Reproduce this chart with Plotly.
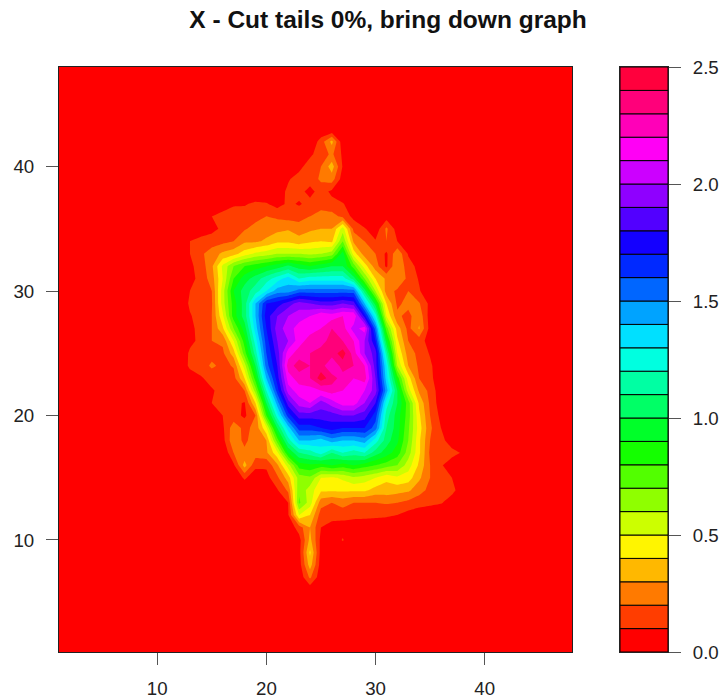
import plotly.graph_objects as go

title = "X - Cut tails 0%, bring down graph"
grid_x = list(range(1, 49))
grid_y = list(range(1, 49))
first_col = 12  # the first value in each row below sits at x = 12

# rows: y -> values for x = 12 .. 38; everything else in the grid reads as 0
row_43 = [0]*27
row_42 = [0,0,0,0,0,0,0,0,0,0,0,0,0,.15,.33,.03,0,0,0,0,0,0,0,0,0,0,0]
row_41 = [0,0,0,0,0,0,0,0,0,0,0,0,.08,.15,.22,.08,0,0,0,0,0,0,0,0,0,0,0]
row_40 = [0,0,0,0,0,0,0,0,0,0,0,.07,.15,.2,.35,.09,0,0,0,0,0,0,0,0,0,0,0]
row_39 = [0,0,0,0,0,0,0,0,0,.09,.09,.14,.14,.22,.25,.05,0,0,0,0,0,0,0,0,0,0,0]
row_38 = [0,0,0,0,0,0,0,0,0,.05,.12,.13,.07,.14,.08,0,0,0,0,0,0,0,0,0,0,0,0]
row_37 = [0,0,0,0,.07,.09,.09,.12,.11,.06,.12,.09,.13,.15,.13,.11,.03,0,0,0,0,0,0,0,0,0,0]
row_36 = [0,0,0,.1,.12,.14,.15,.17,.2,.18,.16,.16,.2,.25,.24,.17,.07,0,0,.05,0,0,0,0,0,0,0]
row_35 = [0,.02,.03,.07,.12,.15,.19,.23,.25,.27,.29,.25,.28,.3,.3,.55,.17,.11,.03,.22,.05,0,0,0,0,0,0]
row_34 = [0,.1,.14,.15,.17,.2,.28,.28,.32,.38,.38,.34,.38,.4,.38,.7,.28,.2,.11,.2,.1,0,0,0,0,0,0]
row_33 = [0,.1,.18,.25,.32,.36,.45,.52,.55,.6,.6,.6,.58,.6,.65,.95,.45,.25,.2,.08,.28,.09,0,0,0,0,0]
row_32 = [0,.08,.14,.28,.52,.7,.8,.85,.9,.95,1.02,.95,.9,.95,1.0,1.0,.75,.45,.25,.08,.3,.14,.07,0,0,0,0]
row_31 = [0,.07,.13,.25,.5,.8,.95,1.05,1.15,1.25,1.35,1.2,1.25,1.25,1.25,1.25,1.05,.7,.4,.28,.3,.17,.09,0,0,0,0]
row_30 = [0,.1,.15,.2,.55,.9,1.05,1.15,1.3,1.45,1.45,1.55,1.55,1.55,1.55,1.55,1.55,1.05,.6,.25,.18,.2,.11,.02,0,0,0]
row_29 = [0,.12,.16,.19,.55,.85,1.05,1.4,1.7,1.75,1.85,1.95,1.9,1.85,1.85,1.9,1.85,1.4,.95,.4,.18,.23,.21,.07,0,0,0]
row_28 = [0,.09,.15,.2,.48,.85,1.05,1.4,1.75,1.9,2.0,2.05,2.1,2.2,2.15,2.2,2.2,1.75,1.25,.5,.22,.17,.27,.05,0,0,0]
row_27 = [0,.07,.14,.2,.38,.7,.95,1.35,1.7,1.95,2.05,2.15,2.15,2.2,2.3,2.25,2.05,2.15,1.55,.75,.35,.17,.31,.06,0,0,0]
row_26 = [0,.07,.13,.2,.22,.5,.85,1.25,1.65,1.9,2.0,2.15,2.25,2.25,2.35,2.3,2.2,2.0,1.7,.95,.42,.2,.15,.05,0,0,0]
row_25 = [0,.12,.15,.16,.18,.35,.75,1.15,1.6,1.85,2.15,2.25,2.3,2.35,2.35,2.45,2.25,2.0,1.85,1.15,.5,.25,.17,.09,0,0,0]
row_24 = [.02,.12,.14,.22,.17,.21,.55,1.0,1.55,1.8,2.25,2.35,2.3,2.35,2.2,2.35,2.3,2.2,1.85,1.3,.6,.3,.18,.12,.02,0,0]
row_23 = [0,.05,.09,.13,.14,.16,.4,.85,1.4,1.75,2.15,2.25,2.3,2.45,2.35,2.25,2.2,2.25,1.9,1.35,.85,.45,.2,.13,.02,0,0]
row_22 = [0,0,.02,.09,.13,.15,.2,.65,1.2,1.65,2.05,2.15,2.15,2.2,2.25,2.2,2.2,2.1,1.95,1.45,1.0,.55,.28,.17,.03,0,0]
row_21 = [0,0,.02,.1,.12,.13,.09,.4,1.0,1.45,1.85,2.05,2.1,1.95,2.05,2.15,2.15,2.0,1.8,1.25,1.0,.75,.38,.18,.04,0,0]
row_20 = [0,0,0,.02,.1,.14,.08,.2,.8,1.25,1.65,1.85,1.85,1.85,1.85,1.9,1.9,1.85,1.65,1.15,.95,.75,.42,.2,.07,0,0]
row_19 = [0,0,0,0,.08,.26,.17,.23,.48,1.0,1.35,1.65,1.65,1.7,1.75,1.7,1.7,1.7,1.55,1.1,.95,.72,.45,.22,.1,.02,0]
row_18 = [0,0,0,0,.06,.28,.17,.27,.3,.75,1.15,1.4,1.4,1.35,1.45,1.4,1.4,1.45,1.25,1.05,.92,.7,.42,.2,.13,.05,0]
row_17 = [0,0,0,0,0,.2,.23,.25,.28,.47,.9,1.1,1.15,1.25,1.1,1.2,1.15,1.2,1.05,.95,.85,.65,.42,.18,.14,.13,.09]
row_16 = [0,0,0,0,0,.08,.34,.13,.12,.28,.55,.85,.88,.85,.9,.85,.9,.85,.8,.75,.7,.55,.38,.2,.11,.05,0]
row_15 = [0,0,0,0,0,0,.12,.03,.06,.18,.35,.65,.68,.5,.48,.52,.58,.55,.5,.42,.48,.45,.32,.2,.17,.1,.02]
row_14 = [0,0,0,0,0,0,0,0,0,.09,.22,.68,.55,.42,.42,.42,.42,.42,.36,.36,.34,.32,.24,.17,.16,.13,.04]
row_13 = [0,0,0,0,0,0,0,0,0,.02,.1,.72,.55,.24,.2,.24,.2,.2,.2,.21,.2,.17,.14,.13,.11,.05,0]
row_12 = [0,0,0,0,0,0,0,0,0,0,.09,.5,.4,.15,.13,.14,.13,.13,.13,.12,.1,.06,.04,.01,0,0,0]
row_11 = [0,0,0,0,0,0,0,0,0,0,.02,.15,.3,.1,.07,.05,.04,.03,0,0,0,0,0,0,0,0,0]
row_10 = [0,0,0,0,0,0,0,0,0,0,0,.06,.33,.07,.02,.11,0,0,0,0,0,0,0,0,0,0,0]
row_9 = [0,0,0,0,0,0,0,0,0,0,0,.06,.42,.06,0,0,0,0,0,0,0,0,0,0,0,0,0]
row_8 = [0,0,0,0,0,0,0,0,0,0,0,.05,.35,.05,0,0,0,0,0,0,0,0,0,0,0,0,0]
row_7 = [0,0,0,0,0,0,0,0,0,0,0,.02,.22,.03,0,0,0,0,0,0,0,0,0,0,0,0,0]
row_6 = [0,0,0,0,0,0,0,0,0,0,0,0,.03,0,0,0,0,0,0,0,0,0,0,0,0,0,0]

rows = {6: row_6, 7: row_7, 8: row_8, 9: row_9, 10: row_10, 11: row_11, 12: row_12,
        13: row_13, 14: row_14, 15: row_15, 16: row_16, 17: row_17, 18: row_18,
        19: row_19, 20: row_20, 21: row_21, 22: row_22, 23: row_23, 24: row_24,
        25: row_25, 26: row_26, 27: row_27, 28: row_28, 29: row_29, 30: row_30,
        31: row_31, 32: row_32, 33: row_33, 34: row_34, 35: row_35, 36: row_36,
        37: row_37, 38: row_38, 39: row_39, 40: row_40, 41: row_41, 42: row_42,
        43: row_43}

key_levels = [round(i * 0.1, 1) for i in range(25)]
key_colors = ["#FF0000", "#FF3D00", "#FF7A00", "#FFB800", "#FFF500", "#CCFF00", "#8FFF00",
              "#52FF00", "#14FF00", "#00FF29", "#00FF66", "#00FFA3", "#00FFE0", "#00E0FF",
              "#00A3FF", "#0066FF", "#0029FF", "#1400FF", "#5200FF", "#8F00FF", "#CC00FF",
              "#FF00F5", "#FF00B8", "#FF007A", "#FF003D"]
key_ticks = [0.0, 0.5, 1.0, 1.5, 2.0, 2.5]
x_ticks = [10, 20, 30, 40]
y_ticks = [10, 20, 30, 40]

z = []
for y in grid_y:
    line = [0.0] * len(grid_x)
    if y in rows:
        for i, v in enumerate(rows[y]):
            line[first_col - 1 + i] = v
    z.append(line)

n = len(key_colors)
scale = []
for i, c in enumerate(key_colors):
    scale.append([i / n, c])
    scale.append([(i + 1) / n, c])

W, H = 725, 698
FONT = "Liberation Sans, Arimo, Helvetica, Arial, sans-serif"
INK = "#222222"

fig = go.Figure()
fig.add_trace(go.Contour(
    x=grid_x, y=grid_y, z=z, colorscale=scale, showscale=False,
    autocontour=False,
    contours=dict(start=0.1, end=2.4, size=0.1, coloring="fill", showlines=False),
    line=dict(width=0, smoothing=0), hoverinfo="skip", xaxis="x", yaxis="y",
))
fig.add_trace(go.Bar(
    x=[0.5] * len(key_levels), y=[0.1] * len(key_levels), base=key_levels, width=1,
    marker=dict(color=key_colors, line=dict(color="#000000", width=1)),
    hoverinfo="skip", xaxis="x2", yaxis="y2",
))

axis_common = dict(
    showgrid=False, zeroline=False, showline=True, linecolor=INK, linewidth=1,
    mirror=True, ticks="outside", ticklen=12, tickwidth=1, tickcolor="#555555",
    automargin=False,
    tickfont=dict(family=FONT, size=18.7, color="#222222"),
)
fig.update_layout(
    template="none",
    width=W, height=H, margin=dict(l=0, r=0, t=0, b=0),
    paper_bgcolor="white", plot_bgcolor="white", showlegend=False, barmode="overlay",
    font=dict(family=FONT),
    title=dict(text="<b>%s</b>" % title, x=388 / W, xanchor="center", y=1 - 19 / H,
               yanchor="middle", font=dict(family=FONT, size=24.5, color="#111111"),
               automargin=False),
    xaxis=dict(domain=[59 / W, 572 / W], range=[1, 48], tickvals=x_ticks,
               ticklabelstandoff=8, **axis_common),
    yaxis=dict(domain=[(H - 652) / H, (H - 67) / H], range=[1, 48], tickvals=y_ticks,
               ticklabelstandoff=8, **axis_common),
    xaxis2=dict(domain=[620 / W, 668 / W], range=[0, 1], anchor="y2", showticklabels=False,
                showgrid=False, zeroline=False, showline=True, linecolor=INK, mirror=True,
                ticks="", automargin=False),
    yaxis2=dict(domain=[(H - 652) / H, (H - 67) / H], range=[0, 2.5], anchor="x2",
                side="right", tickvals=key_ticks, tickformat=".1f",
                ticklabelstandoff=8, **axis_common),
)
fig.write_html("out.html", post_script="document.body.style.margin='0';",
               config={"displayModeBar": False})
